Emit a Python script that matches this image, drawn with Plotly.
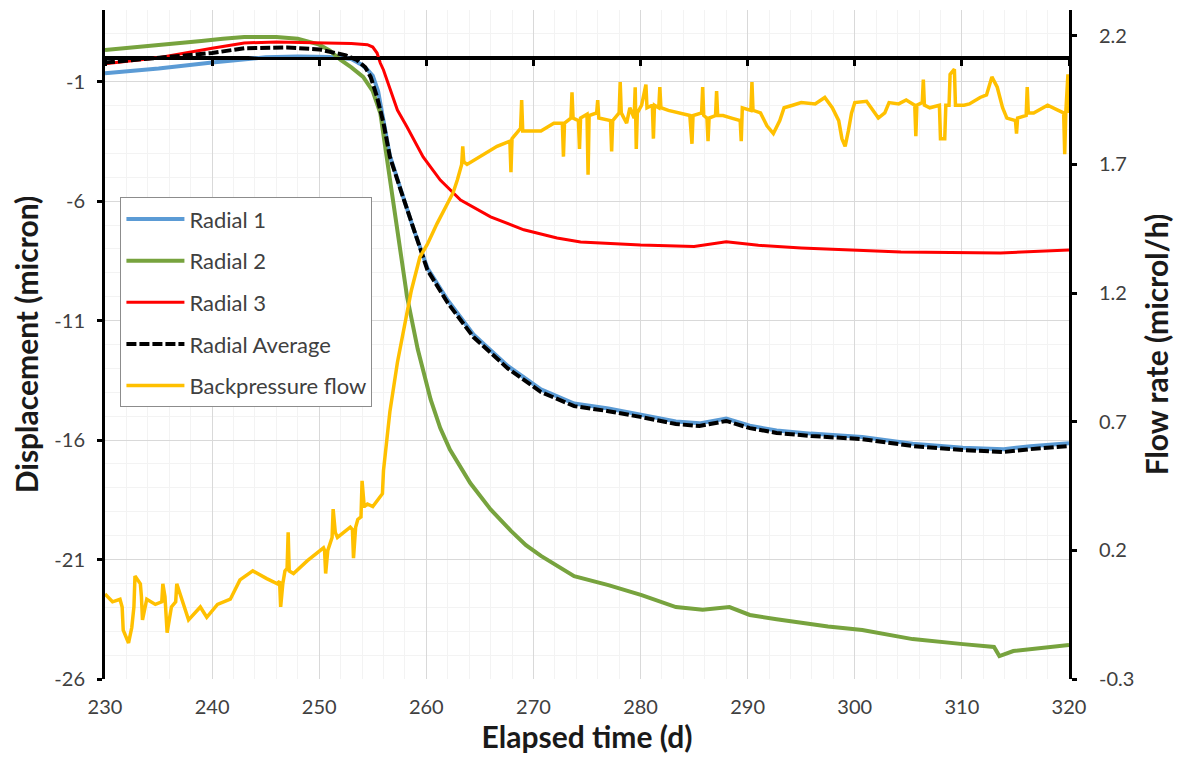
import plotly.graph_objects as go

# ---------------- data ----------------
t_r1 = [230, 235, 240, 243, 245, 248, 251, 253, 254, 254.5, 255, 255.5, 256, 256.6, 257.6, 258.8,
        260.1, 262, 264.4, 267.6, 270.7, 273.8, 277, 280.1, 283.3, 285.5, 288, 290.2, 292.7,
        295.9, 300.7, 305.4, 310.1, 313.9, 316.4, 320]
v_r1 = [-0.65, -0.45, -0.2, -0.05, 0.02, 0.05, 0.03, -0.05, -0.3, -0.5, -0.75, -1.4, -2.7, -4.1, -5.5, -7.15,
        -8.8, -10.15, -11.58, -12.9, -13.88, -14.47, -14.68, -14.93, -15.22, -15.3, -15.1, -15.4, -15.6,
        -15.73, -15.87, -16.15, -16.32, -16.38, -16.26, -16.13]

t_r2 = [230, 233, 236, 239, 241, 243, 246, 248, 250, 251, 252, 253, 254.1, 255, 255.7, 256.4, 257.3,
        258.2, 259.2, 260.4, 261.3, 262.2, 264.1, 266, 267.9, 269.3, 270.7, 273.8, 277, 280.1, 283.3,
        285.8, 288.3, 290.2, 292.7, 297.5, 300.7, 305.4, 310.1, 313, 313.5, 314.8, 320]
v_r2 = [0.33, 0.45, 0.55, 0.7, 0.8, 0.87, 0.87, 0.8, 0.55, 0.3, -0.09, -0.4, -0.8, -1.4, -2.31, -4.4, -7.2,
        -10.0, -12.2, -14.3, -15.5, -16.4, -17.8, -18.9, -19.8, -20.4, -20.85, -21.7, -22.07, -22.49, -22.99,
        -23.1, -22.99, -23.32, -23.5, -23.8, -23.95, -24.33, -24.54, -24.66, -25.04, -24.83, -24.58]

t_r3 = [230, 235, 240, 243, 246, 250, 253, 254.5, 255, 255.4, 255.7, 256, 256.9, 257.3, 258.2, 259.7,
        261.3, 263.2, 266, 269.1, 272.2, 274.4, 280, 285, 288, 291, 295, 304.3, 313.6, 320]
v_r3 = [-0.25, 0.0, 0.4, 0.62, 0.66, 0.62, 0.6, 0.55, 0.45, 0.2, -0.22, -0.51, -1.64, -2.19, -2.9, -4.15,
        -5.12, -5.95, -6.66, -7.2, -7.54, -7.71, -7.84, -7.9, -7.7, -7.85, -7.96, -8.13, -8.17, -8.05]

t_avg = [230, 235, 240, 243, 247, 250, 251, 252.5, 253.5, 254.3, 254.8, 255.4, 256, 256.6, 257.6, 258.8,
         260.1, 262, 264.4, 267.6, 270.7, 273.8, 277, 280.1, 283.3, 285.5, 288, 290.2, 292.7, 295.9,
         300.7, 305.4, 310.1, 313.9, 316.4, 320]
v_avg = [-0.2, 0.0, 0.2, 0.4, 0.43, 0.35, 0.24, 0.1, -0.09, -0.4, -0.8, -1.64, -2.73, -4.15, -5.53, -7.2,
         -8.88, -10.26, -11.69, -13.0, -13.99, -14.58, -14.79, -15.04, -15.33, -15.41, -15.2, -15.5, -15.7, -15.83,
         -15.96, -16.25, -16.42, -16.5, -16.38, -16.25]

t_bp = [230, 230.7, 231.4, 231.6, 231.7, 232.2, 232.5, 232.7, 232.8, 233.3, 233.4, 233.5, 233.9, 234.7,
        235.3, 235.4, 235.6, 235.8, 236.2, 236.6, 236.7, 237.8, 238.9, 239.5, 240.5, 241.7, 242.6, 243.8,
        245.1, 246.1, 246.3, 246.4, 246.6, 246.8, 247.0, 247.1, 247.2, 247.6, 248.9, 250.4, 250.5, 250.6,
        250.8, 251.2, 251.3, 251.5, 251.7, 252.9, 253.1, 253.2, 253.4, 253.6, 253.9, 254.0, 254.2, 254.5,
        255.0, 255.9, 256.0, 256.6, 257.3, 257.9, 258.6, 259.4, 260.1, 261.0, 261.6, 262.5, 262.9, 263.3,
        263.4, 263.5, 263.8, 265.0, 266.6, 267.8, 267.9, 268.0, 268.8, 268.9, 269.0, 270.7, 271.9, 272.7,
        272.8, 272.9, 273.5, 273.6, 273.7, 274.2, 274.3, 274.4, 275.0, 275.1, 275.2, 275.9, 276.0, 276.1,
        277.2, 277.3, 277.4, 278.0, 278.1, 278.2, 278.7, 279.0, 279.4, 279.5, 279.6, 279.7, 280.1, 280.5,
        280.6, 281.1, 281.2, 281.3, 281.7, 281.8, 281.9, 282.6, 283.5, 284.6, 284.8, 284.9, 285.7, 285.8,
        285.9, 286.2, 286.3, 286.4, 287.0, 287.1, 287.2, 287.7, 288.5, 289.3, 289.4, 289.5, 290.3, 290.4,
        290.5, 291.2, 291.8, 292.4, 293.0, 293.4, 294.2, 295.0, 296.3, 297.2, 297.9, 298.5, 298.8, 299.1,
        299.4, 299.7, 300.0, 301.1, 302.2, 302.8, 303.2, 304.1, 304.8, 305.6, 305.7, 305.8, 306.3, 306.4,
        306.5, 307.0, 307.9, 308.0, 308.4, 308.5, 308.8, 308.9, 309.3, 309.4, 310.2, 310.7, 311.7, 312.3,
        312.8, 313.3, 313.8, 314.2, 315.0, 315.1, 315.2, 316.0, 316.1, 316.2, 316.7, 317.5, 318.0, 319.0,
        319.5, 319.6, 319.7, 319.9, 320.0]
f_bp = [0.03, 0.0, 0.01, -0.02, -0.11, -0.16, -0.1, -0.02, 0.1, 0.07, 0.02, -0.07, 0.01, -0.01,
        0.0, 0.07, 0.02, -0.12, -0.02, 0.0, 0.07, -0.07, -0.02, -0.06, -0.01, 0.01, 0.085, 0.12,
        0.09, 0.07, 0.08, -0.02, 0.07, 0.12, 0.13, 0.27, 0.12, 0.11, 0.16, 0.21, 0.2, 0.11,
        0.2, 0.25, 0.36, 0.27, 0.25, 0.29, 0.28, 0.17, 0.29, 0.32, 0.33, 0.47, 0.37, 0.38,
        0.37, 0.42, 0.51, 0.74, 0.93, 1.06, 1.21, 1.34, 1.39, 1.47, 1.52, 1.59, 1.64, 1.7,
        1.77, 1.71, 1.7, 1.73, 1.77, 1.79, 1.67, 1.8, 1.84, 1.95, 1.83, 1.83, 1.86, 1.86,
        1.73, 1.86, 1.88, 1.98, 1.88, 1.87, 1.76, 1.88, 1.895, 1.66, 1.89, 1.9, 1.95, 1.88,
        1.87, 1.75, 1.87, 1.9, 2.02, 1.9, 1.86, 1.92, 1.88, 2.0, 1.76, 1.9, 1.93, 2.01,
        1.92, 1.93, 1.8, 1.93, 1.92, 2.0, 1.92, 1.91, 1.9, 1.89, 1.78, 1.89, 1.9, 2.0,
        1.89, 1.88, 1.79, 1.88, 1.89, 1.985, 1.89, 1.89, 1.88, 1.87, 1.79, 1.92, 1.91, 2.02,
        1.91, 1.9, 1.85, 1.82, 1.87, 1.92, 1.93, 1.94, 1.935, 1.96, 1.92, 1.87, 1.8, 1.77,
        1.83, 1.9, 1.94, 1.945, 1.88, 1.9, 1.94, 1.935, 1.95, 1.93, 1.81, 1.93, 1.94, 2.03,
        1.93, 1.92, 1.93, 1.8, 1.8, 1.93, 1.93, 2.05, 2.07, 1.93, 1.93, 1.935, 1.96, 1.97,
        2.04, 2.0, 1.92, 1.88, 1.87, 1.82, 1.88, 1.89, 2.0, 1.9, 1.9, 1.92, 1.93, 1.91,
        1.9, 1.74, 1.9, 2.05, 1.9]

x_ticks = [230, 240, 250, 260, 270, 280, 290, 300, 310, 320]
y_ticks = [-26, -21, -16, -11, -6, -1]
y_ticktext = ["-26", "-21", "-16", "-11", "-6", "-1"]
y2_ticks = [-0.3, 0.2, 0.7, 1.2, 1.7, 2.2]
y2_ticktext = ["-0.3", "0.2", "0.7", "1.2", "1.7", "2.2"]

FONT = "Lato"
TICKCOL = "#404040"
TITLECOL = "#1a1a1a"

fig = go.Figure()
fig.add_trace(go.Scatter(x=t_r1, y=v_r1, name="Radial 1", mode="lines", legendgroup="a",
                         line=dict(color="#5b9bd5", width=4)))
fig.add_trace(go.Scatter(x=t_r2, y=v_r2, name="Radial 2", mode="lines", legendgroup="b",
                         line=dict(color="#77a33e", width=4)))
fig.add_trace(go.Scatter(x=t_r3, y=v_r3, name="Radial 3", mode="lines", legendgroup="c",
                         line=dict(color="#ff0000", width=3)))
fig.add_trace(go.Scatter(x=t_avg, y=v_avg, name="Radial Average", mode="lines", legendgroup="d",
                         line=dict(color="black", width=4, dash="10px,3px")))
fig.add_trace(go.Scatter(x=t_bp, y=f_bp, name="Backpressure flow", mode="lines", legendgroup="e",
                         yaxis="y2", line=dict(color="#ffc000", width=3.5)))
# invisible helper trace so that the zero-crossing x axis (tick marks on the y=0 line) is drawn
fig.add_trace(go.Scatter(x=[x_ticks[0]], y=[y_ticks[0] - 10], xaxis="x2", yaxis="y", showlegend=False,
                         hoverinfo="skip", mode="markers", marker=dict(opacity=0)))

fig.update_layout(
    width=1185, height=773,
    margin=dict(l=97, r=124, t=2, b=102),
    paper_bgcolor="white", plot_bgcolor="white",
    font=dict(family=FONT, size=20, color=TICKCOL),
    showlegend=True,
    legend=dict(x=0.016, y=0.72, xanchor="left", yanchor="top",
                bgcolor="white", bordercolor="#8c8c8c", borderwidth=1,
                font=dict(family=FONT, size=22, color="#404040"),
                tracegroupgap=10, itemwidth=58),
    xaxis=dict(range=[230, 320], tickvals=x_ticks, showline=False, ticks="",
               ticklabelstandoff=14,
               showgrid=True, gridcolor="#d9d9d9", gridwidth=1,
               minor=dict(dtick=2, showgrid=True, gridcolor="#f3f3f3", gridwidth=1),
               zeroline=False, tickfont=dict(size=20, color=TICKCOL),
               title=dict(text="<b>Elapsed time (d)</b>", font=dict(size=30, color=TITLECOL), standoff=8)),
    xaxis2=dict(range=[230, 320], overlaying="x", anchor="free", position=26/28,
                tickvals=x_ticks, showticklabels=False, ticks="outside", ticklen=6, tickwidth=3,
                tickcolor="black", showline=True, linecolor="black", linewidth=3,
                showgrid=False, zeroline=False),
    yaxis=dict(range=[-26, 2], tickvals=y_ticks, ticktext=y_ticktext,
               showline=True, linecolor="black", linewidth=3,
               ticks="outside", ticklen=5, tickwidth=3, tickcolor="black", ticklabelstandoff=8,
               showgrid=True, gridcolor="#d9d9d9", gridwidth=1,
               minor=dict(dtick=1, tick0=-26, showgrid=True, gridcolor="#f3f3f3", gridwidth=1),
               zeroline=True, zerolinecolor="black", zerolinewidth=3,
               tickfont=dict(size=20, color=TICKCOL),
               title=dict(text="<b>Displacement (micron)</b>", font=dict(size=30, color=TITLECOL), standoff=12)),
    yaxis2=dict(range=[-0.3, 2.3], tickvals=y2_ticks, ticktext=y2_ticktext, overlaying="y", side="right",
                showline=True, linecolor="black", linewidth=3,
                ticks="outside", ticklen=5, tickwidth=3, tickcolor="black", ticklabelstandoff=18,
                showgrid=False, zeroline=False, tickfont=dict(size=20, color=TICKCOL),
                title=dict(text="<b>Flow rate (microl/h)</b>", font=dict(size=30, color=TITLECOL), standoff=14)),
)

fig.write_html("out.html")
